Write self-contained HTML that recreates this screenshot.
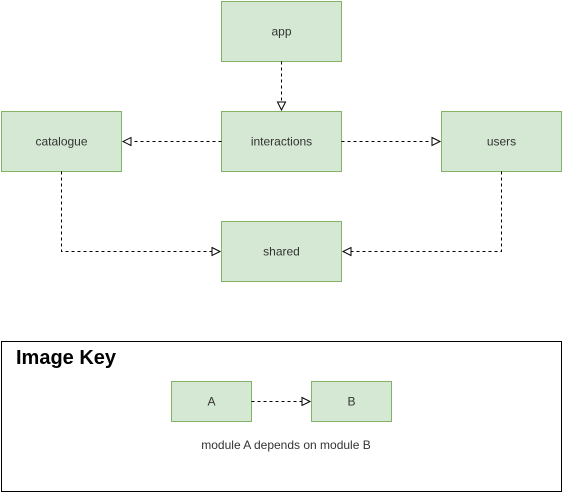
<!DOCTYPE html>
<html><head><meta charset="utf-8"><style>
html,body{margin:0;padding:0;background:#fff;width:563px;height:493px;overflow:hidden}
text{font-family:"Liberation Sans",Arial,sans-serif}
</style></head><body>
<svg width="563" height="493" viewBox="0 0 563 493" xmlns="http://www.w3.org/2000/svg">
<defs>
<marker id="a" markerWidth="12" markerHeight="12" refX="9" refY="5" orient="auto" markerUnits="userSpaceOnUse">
<path d="M1,1 L9,5 L1,9 Z" fill="#fff" stroke="#000" stroke-width="1"/>
</marker>
</defs>
<g fill="#d5e8d4" stroke="#82b366" stroke-width="1">
<rect x="221.5" y="1.5" width="120" height="60"/>
<rect x="221.5" y="111.5" width="120" height="60"/>
<rect x="1.5" y="111.5" width="120" height="60"/>
<rect x="441.5" y="111.5" width="120" height="60"/>
<rect x="221.5" y="221.5" width="120" height="60"/>
<rect x="171.5" y="381.5" width="80" height="40"/>
<rect x="311.5" y="381.5" width="80" height="40"/>
</g>
<g fill="none" stroke="#000" stroke-width="1" stroke-dasharray="3,3" marker-end="url(#a)">
<path d="M281.5 61.5 V110"/>
<path d="M221.5 141.5 H123"/>
<path d="M341.5 141.5 H440"/>
<path d="M61.5 171.5 V251.5 H220"/>
<path d="M501.5 171.5 V251.5 H343"/>
<path d="M251.5 401.5 H310"/>
</g>
<rect x="1.5" y="341.5" width="560" height="150" fill="none" stroke="#000" stroke-width="1"/>
<g font-size="12" fill="#333" text-anchor="middle">
<text x="281.5" y="35.5">app</text>
<text x="281.5" y="145.5">interactions</text>
<text x="61.5" y="145.5">catalogue</text>
<text x="501.5" y="145.5">users</text>
<text x="281.5" y="255.5">shared</text>
<text x="211.5" y="405.5">A</text>
<text x="351.5" y="405.5">B</text>
<text x="286" y="449" font-size="12">module A depends on module B</text>
</g>
<text x="16" y="364" font-size="20" font-weight="bold" fill="#000">Image Key</text>
</svg>
</body></html>
